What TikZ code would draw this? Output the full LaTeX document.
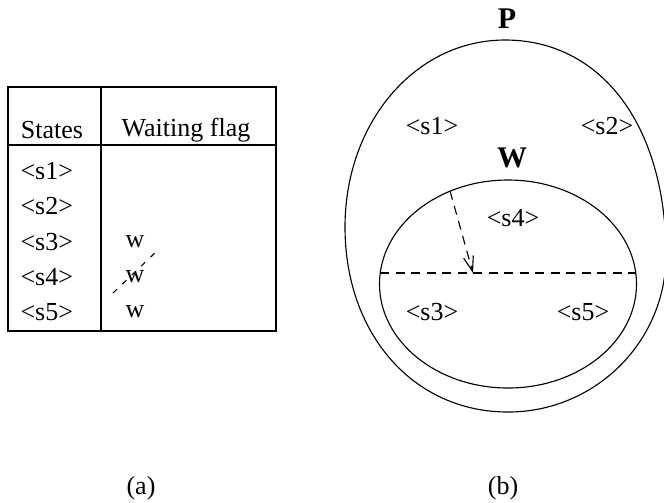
\documentclass[tikz,border=0pt]{standalone}
\usepackage{fontspec}
\setmainfont{Liberation Serif}
\usetikzlibrary{arrows.meta}
\begin{document}
\begin{tikzpicture}[x=0.4pt,y=-0.4pt,line width=0.45pt,
  txt/.style={inner sep=0pt,font=\fontsize{10.4}{12}\selectfont},
  bold/.style={inner sep=0pt,font=\fontsize{12}{14}\selectfont\bfseries},
  dsh/.style={dash pattern=on 3.6pt off 2.6pt},
  strike/.style={dash pattern=on 2.2pt off 3pt}]
\useasboundingbox (0,0) rectangle (664,502);
% ---- table (a)
\draw (8,87) rectangle (276,331);
\draw (101,87) -- (101,331);
\draw (8,145) -- (276,145);
\node[txt] (hs) at (52,130) {States};
\node[txt] (hw) at (186,130) {Waiting flag};
\node[txt,anchor=west] (r1) at (20,171) {<s1>};
\node[txt,anchor=west] (r2) at (20,206) {<s2>};
\node[txt,anchor=west] (r3) at (20,242) {<s3>};
\node[txt,anchor=west] (r4) at (20,277) {<s4>};
\node[txt,anchor=west] (r5) at (20,312) {<s5>};
\node[txt] (w3) at (135,242) {w};
\node[txt] (w4) at (135,277) {w};
\node[txt] (w5) at (135,312) {w};
\coordinate (sa) at (113,293);
\coordinate (sb) at (158,250);
\draw[strike] (sa) -- (sb);
\node[txt] (capa) at (141,488) {(a)};
% ---- diagram (b)
\node[bold] (P) at (507,19) {P};
\draw (505,40) .. controls (601.6,40) and (666,126) .. (666,255)
  .. controls (666,341.7) and (595.2,412) .. (508,412)
  .. controls (413.5,412) and (345,334.3) .. (345,227)
  .. controls (345,122.3) and (415.4,40) .. cycle;
\node[bold] (W) at (512,158) {W};
\draw (508,284) ellipse [x radius=128.5, y radius=104];
\coordinate (dl) at (380,273);
\coordinate (dr) at (636,273);
\draw[dsh] (dl) -- (dr);
\coordinate (at) at (450,191);
\coordinate (ah) at (473,273);
\draw[dsh,-{Straight Barb[length=6pt,width=4pt]}] (at) -- (ah);
\node[txt] (s1) at (432,126) {<s1>};
\node[txt] (s2) at (607,126) {<s2>};
\node[txt] (s4) at (513,218) {<s4>};
\node[txt] (s3) at (432,312) {<s3>};
\node[txt] (s5) at (583,312) {<s5>};
\node[txt] (capb) at (503,488) {(b)};
\end{tikzpicture}
\end{document}
